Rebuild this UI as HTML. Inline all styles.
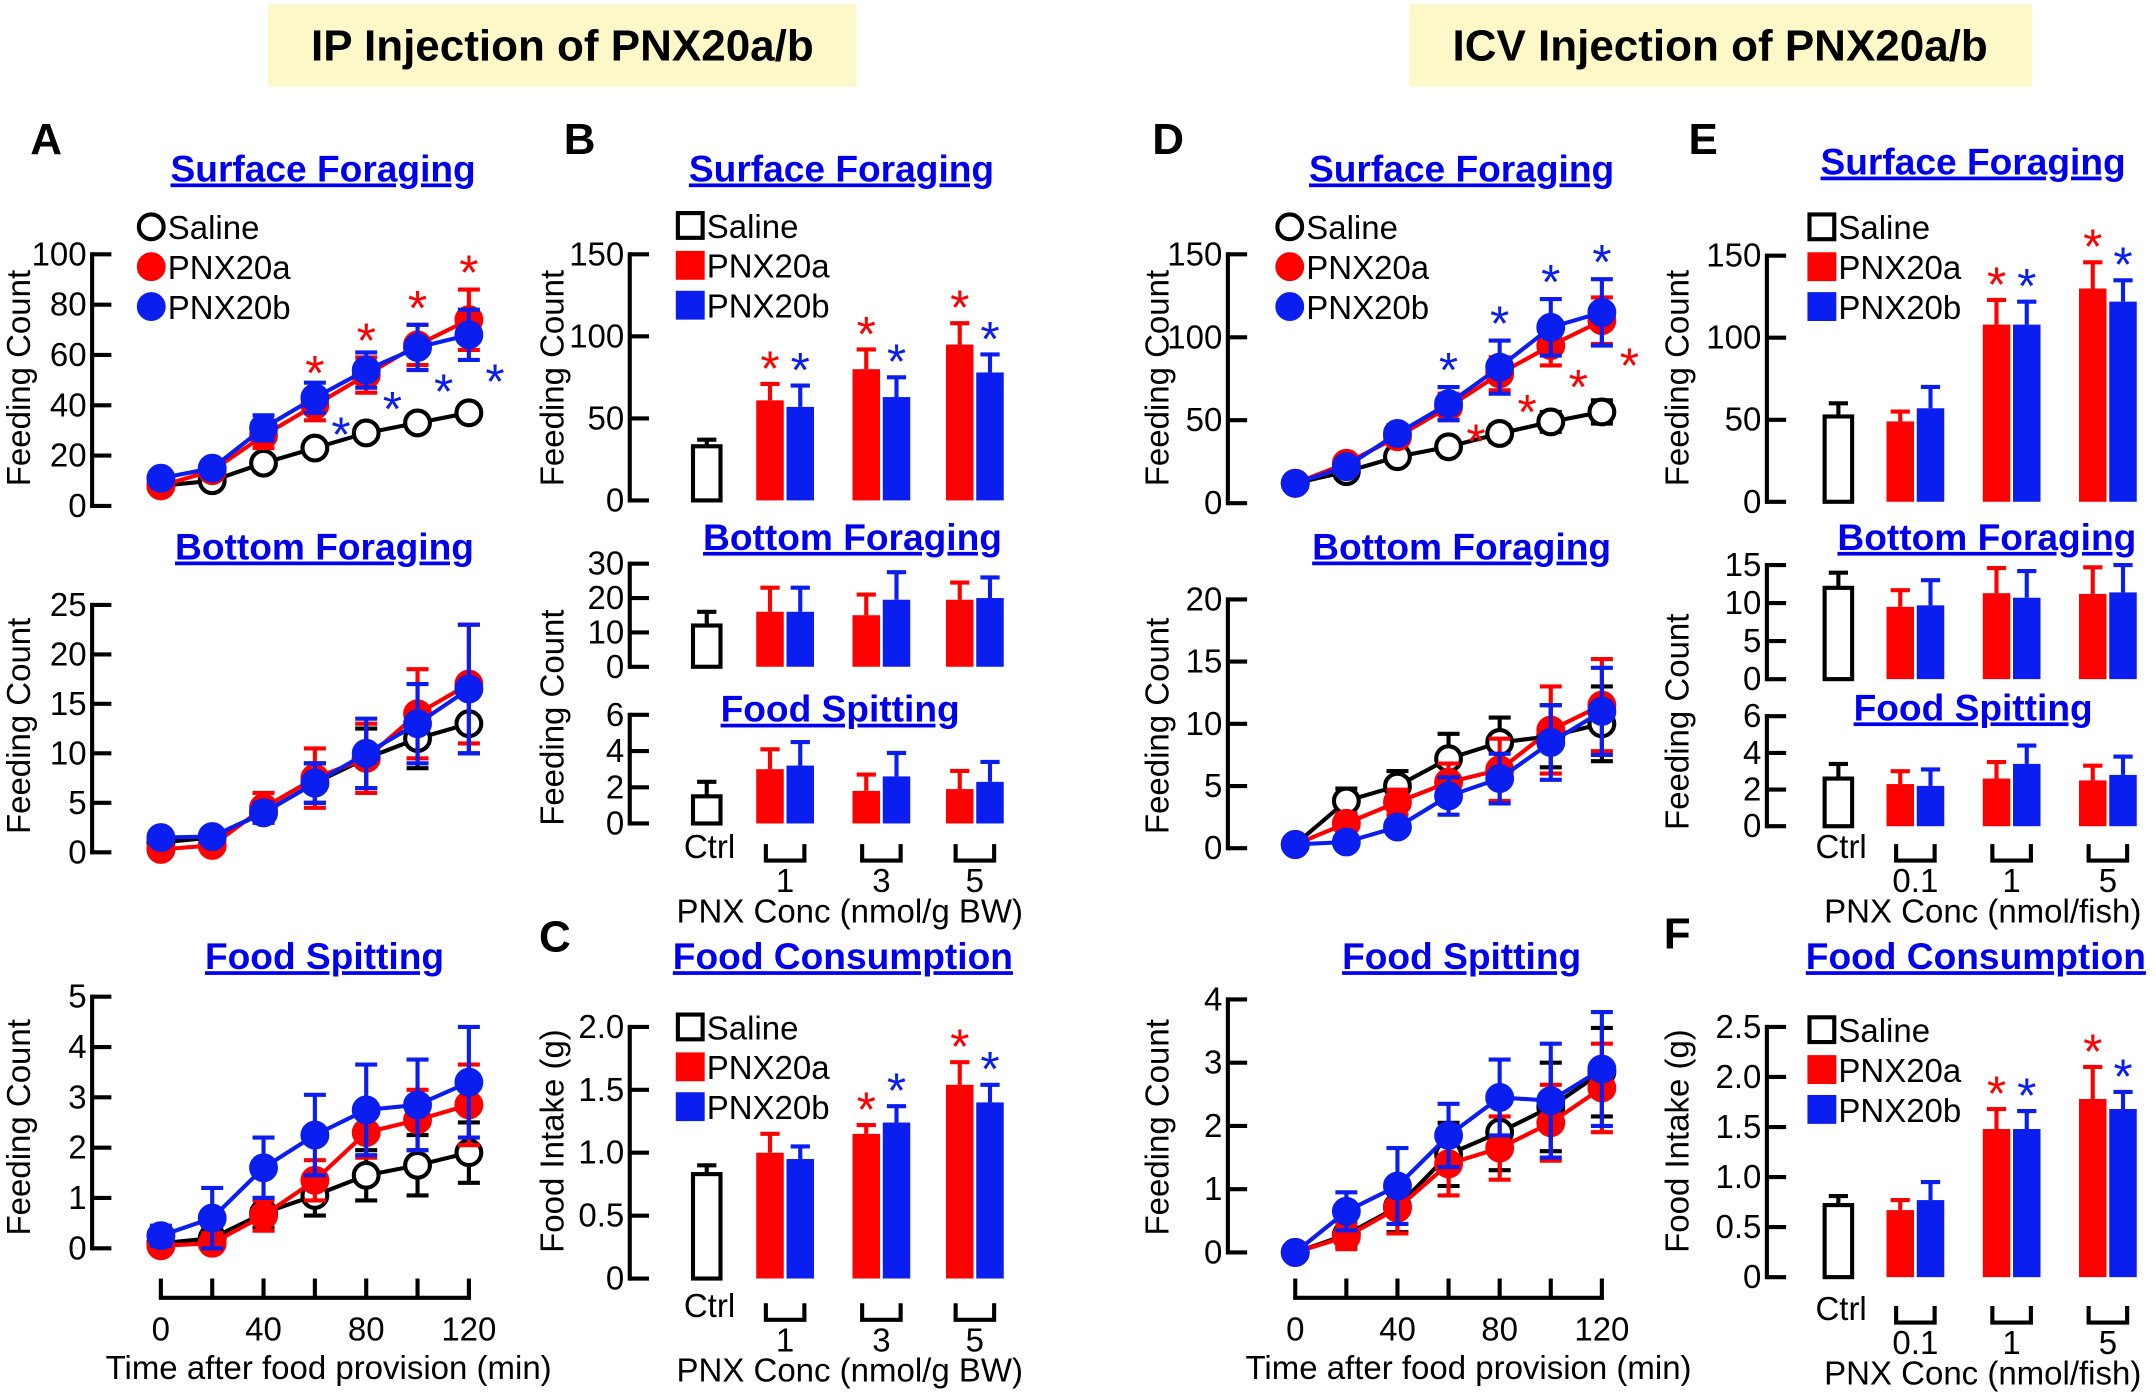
<!DOCTYPE html>
<html><head><meta charset="utf-8"><style>
html,body{margin:0;padding:0;background:#fff}
svg{display:block}
text{font-family:"Liberation Sans",Arial,sans-serif}
</style></head><body>
<svg id="fig" xmlns="http://www.w3.org/2000/svg" width="2156" height="1394" viewBox="0 0 1568 1014" preserveAspectRatio="none">
<rect x="195" y="3" width="428" height="60" fill="#fdf8c8"/>
<text x="409" y="44" font-size="32" font-weight="bold" text-anchor="middle">IP Injection of PNX20a/b</text>
<rect x="1025" y="3" width="453" height="60" fill="#fdf8c8"/>
<text x="1251" y="44" font-size="32" font-weight="bold" text-anchor="middle">ICV Injection of PNX20a/b</text>
</svg>
<script>
// ---- data ----
const timePoints=[0,20,40,60,80,100,120];
const aSurfSal=[8,10,17,23,29,33,37], aSurfSalE=[2,2,2,2,2,2,3];
const aSurfA=[8,14,28,40,52,64,74], aSurfAE=[2,3,5,6,7,8,12];
const aSurfB=[11,15,31,43,54,63,68], aSurfBE=[2,3,5,6,7,9,10];
const aBotSal=[1,1.5,4,7,9.5,11.5,13], aBotSalE=[0.5,0.5,1,2,3,3,3];
const aBotA=[0.3,0.7,4.5,7.5,9.5,14,17], aBotAE=[0.5,0.5,1.5,3,3.5,4.5,6];
const aBotB=[1.5,1.6,4,7,10,13,16.5], aBotBE=[0.5,0.5,1,2,3.5,4,6.5];
const aSpSal=[0.1,0.2,0.7,1.05,1.45,1.65,1.9], aSpSalE=[0.1,0.2,0.3,0.4,0.5,0.6,0.6];
const aSpA=[0.05,0.1,0.65,1.35,2.3,2.55,2.85], aSpAE=[0.1,0.2,0.3,0.4,0.5,0.6,0.8];
const aSpB=[0.25,0.6,1.6,2.25,2.75,2.85,3.3], aSpBE=[0.2,0.6,0.6,0.8,0.9,0.9,1.1];
const dSurfSal=[12,19,28,34,42,49,55], dSurfSalE=[2,2,3,4,5,6,7];
const dSurfA=[12,24,40,58,78,95,110], dSurfAE=[2,3,5,8,10,12,14];
const dSurfB=[12,22,42,60,82,106,115], dSurfBE=[2,3,5,10,16,17,20];
const dBotSal=[0.3,3.8,5,7.2,8.5,9,10], dBotSalE=[0.3,1,1.2,2,2,2.5,3];
const dBotA=[0.3,2,3.7,5.3,6.3,9.5,11.5], dBotAE=[0.3,0.8,1,1.5,2.5,3.5,3.7];
const dBotB=[0.3,0.5,1.7,4.2,5.6,8.5,11], dBotBE=[0.3,0.3,0.5,1.5,2,3,3.5];
const dSpSal=[0,0.28,0.72,1.55,1.9,2.3,2.85], dSpSalE=[0.05,0.2,0.4,0.5,0.6,0.7,0.7];
const dSpA=[0,0.25,0.7,1.4,1.65,2.05,2.6], dSpAE=[0.05,0.2,0.4,0.5,0.5,0.6,0.7];
const dSpB=[0,0.65,1.05,1.85,2.45,2.4,2.9], dSpBE=[0.05,0.3,0.6,0.5,0.6,0.9,0.9];
const starIdx=[3,4,5,6];
const ipDoses=["1","3","5"], icvDoses=["0.1","1","5"];
const bSurfCtrl=[33,4], bSurfA=[61,80,95], bSurfAE=[10,12,13], bSurfB=[57,63,78], bSurfBE=[13,12,11];
const bBotCtrl=[12,4], bBotA=[16,15,19.5], bBotAE=[7,6,5], bBotB=[16,19.5,20], bBotBE=[7,8,6];
const bSpCtrl=[1.5,0.8], bSpA=[3,1.8,1.9], bSpAE=[1.1,0.9,1], bSpB=[3.2,2.6,2.3], bSpBE=[1.3,1.3,1.1];
const cCtrl=[0.83,0.07], cA=[1.0,1.15,1.54], cAE=[0.15,0.07,0.18], cB=[0.95,1.24,1.4], cBE=[0.1,0.13,0.14];
const eSurfCtrl=[52,8], eSurfA=[49,108,130], eSurfAE=[6,15,16], eSurfB=[57,108,122], eSurfBE=[13,14,13];
const eBotCtrl=[12,2], eBotA=[9.5,11.3,11.2], eBotAE=[2.2,3.3,3.5], eBotB=[9.7,10.7,11.4], eBotBE=[3.3,3.5,3.6];
const eSpCtrl=[2.6,0.8], eSpA=[2.3,2.6,2.5], eSpAE=[0.7,0.9,0.8], eSpB=[2.2,3.4,2.8], eSpBE=[0.9,1.0,1.0];
const fCtrl=[0.72,0.09], fA=[0.67,1.48,1.78], fAE=[0.1,0.2,0.32], fB=[0.77,1.48,1.68], fBE=[0.18,0.18,0.17];
const cTicks=[0,0.5,1,1.5,2], cTickLabels=["0","0.5","1.0","1.5","2.0"];
const fTicks=[0,0.5,1,1.5,2,2.5], fTickLabels=["0","0.5","1.0","1.5","2.0","2.5"];

const RED='#ff0000', BLUE='#0a1ef0';
const FS=24;
const svg=document.getElementById('fig');
const NS='http://www.w3.org/2000/svg';
function mk(tag,attrs,name,txt){
  const el=document.createElementNS(NS,tag);
  for(const k in attrs) el.setAttribute(k,attrs[k]);
  
  
  if(txt!==undefined) el.textContent=txt;
  svg.appendChild(el);return el;
}
function line(x1,y1,x2,y2,c,w,name){return mk('line',{x1,y1,x2,y2,stroke:c,'stroke-width':w},name);}
function txt(x,y,s,size,opt,name){opt=opt||{};return mk('text',Object.assign({x,y,'font-size':size},opt),name,s);}
function title(x,y,s,name){txt(x,y,s,27,{'font-weight':'bold',fill:'#0000ee','text-anchor':'middle','text-decoration':'underline'},name);}
function ytitle(x,y,s,name){txt(x,y,s,FS,{'text-anchor':'middle',transform:`rotate(-90 ${x} ${y})`},name);}
function star(x,y,c){txt(x,y+4,'*',36,{fill:c,'text-anchor':'middle'},'significance-star');}
function yaxis(ax,yb,yt,max,ticks,name,labels){
  const ys=v=>yb-(v/max)*(yb-yt);
  line(ax,ys(ticks[ticks.length-1])-1.5,ax,yb+1.5,'#000',3,name+'-y-axis');
  ticks.forEach((t,i)=>{line(ax,ys(t),ax+14,ys(t),'#000',3,name+'-y-tick');
    txt(ax-4,ys(t)+8,labels?labels[i]:String(t),FS,{'text-anchor':'end'},name+'-y-tick-label');});
  return ys;
}
function linePanel(p){
  const ys=yaxis(p.ax,p.yb,p.yt,p.max,p.ticks,p.name);
  const xs=t=>p.x0+(t/120)*(p.x1-p.x0);
  const ser=[[p.sal,p.salE,'#000','saline'],[p.a,p.aE,RED,'pnx20a'],[p.b,p.bE,BLUE,'pnx20b']];
  ser.forEach(([v,e,c,n])=>{
    v.forEach((m,i)=>{const x=xs(timePoints[i]);
      line(x,ys(m+e[i]),x,ys(Math.max(0,m-e[i])),c,3,n+'-error-bar');
      line(x-8,ys(m+e[i]),x+8,ys(m+e[i]),c,3,n+'-error-cap');
      line(x-8,ys(Math.max(0,m-e[i])),x+8,ys(Math.max(0,m-e[i])),c,3,n+'-error-cap');});
    mk('polyline',{points:v.map((m,i)=>xs(timePoints[i])+','+ys(m)).join(' '),fill:'none',stroke:c,'stroke-width':3},n+'-line');
    v.forEach((m,i)=>mk('circle',{cx:xs(timePoints[i]),cy:ys(m),r:9,fill:n==='saline'?'#fff':c,stroke:c,'stroke-width':3},n+'-point'));
  });
  if(p.stars==='A'){starIdx.forEach(i=>{const x=xs(timePoints[i]);
    star(x,ys(p.a[i]+p.aE[i])-4,RED);star(x+19,ys(p.b[i]-p.bE[i])+24,BLUE);});}
  if(p.stars==='D'){starIdx.forEach(i=>{const x=xs(timePoints[i]);
    star(x,ys(p.b[i]+p.bE[i])-4,BLUE);star(x+20,ys(p.a[i]-p.aE[i])+24,RED);});}
  return xs;
}
function barPanel(p){
  const ys=yaxis(p.ax,p.yb,p.yt,p.max,p.ticks,p.name,p.labels);
  const W=20;
  function bar(cx,v,e,fill,stroke,n){
    mk('rect',{x:cx-W/2,y:ys(v),width:W,height:p.yb-ys(v),fill,stroke,'stroke-width':fill==='#fff'?3:0},n);
    line(cx,ys(v),cx,ys(v+e),stroke,3,n+'-error-bar');
    line(cx-7,ys(v+e),cx+7,ys(v+e),stroke,3,n+'-error-cap');
  }
  bar(p.cx,p.ctrl[0],p.ctrl[1],'#fff','#000','ctrl-bar');
  p.a.forEach((v,i)=>{bar(p.gx[i]-11,v,p.aE[i],RED,RED,'pnx20a-bar');bar(p.gx[i]+11,p.b[i],p.bE[i],BLUE,BLUE,'pnx20b-bar');
    if(p.stars&&p.stars.includes(i)){star(p.gx[i]-11,ys(v+p.aE[i])-3,RED);star(p.gx[i]+11,ys(p.b[i]+p.bE[i])-3,BLUE);}});
  if(p.xlab){
    txt(p.cx+2,p.xlab,'Ctrl',FS,{'text-anchor':'middle'},'ctrl-label');
    p.gx.forEach((g,i)=>{
      mk('polyline',{points:`${g-14},${p.xlab-10} ${g-14},${p.xlab+2} ${g+14},${p.xlab+2} ${g+14},${p.xlab-10}`,fill:'none',stroke:'#000','stroke-width':3},'dose-bracket');
      txt(g,p.xlab+25,p.doses[i],FS,{'text-anchor':'middle'},'dose-label');});
    txt(p.xtc,p.xlab+47,p.xtitle,FS,{'text-anchor':'middle'},'x-axis-title');
  }
}
function legend(x,y,kind){
  const items=[['Saline','#000','#fff'],['PNX20a',RED,RED],['PNX20b',BLUE,BLUE]];
  items.forEach(([s,c,f],i)=>{const yy=y+i*29;
    if(kind==='c') mk('circle',{cx:x+9,cy:yy,r:9,fill:f,stroke:c,'stroke-width':3},'legend-marker');
    else mk('rect',{x:x,y:yy-9,width:18,height:18,fill:f,stroke:c,'stroke-width':3},'legend-marker');
    txt(x+21,yy+9,s,FS,{},'legend-entry');});
}
[['A',22,112],['B',410,112],['C',392,692],['D',838,112],['E',1228,112],['F',1210,690]].forEach(([s,x,y])=>txt(x,y,s,32,{'font-weight':'bold'},'panel-label-'+s.toLowerCase()));
// Panel A
title(235,132,'Surface Foraging','a-surface-title');ytitle(22,275,'Feeding Count','a-surface-y-title');
linePanel({name:'a-surface',ax:67,yb:368,yt:185,max:100,ticks:[0,20,40,60,80,100],x0:117,x1:341,sal:aSurfSal,salE:aSurfSalE,a:aSurfA,aE:aSurfAE,b:aSurfB,bE:aSurfBE,stars:'A'});
legend(101,165,'c');
title(236,407,'Bottom Foraging','a-bottom-title');ytitle(22,528,'Feeding Count','a-bottom-y-title');
linePanel({name:'a-bottom',ax:67,yb:620,yt:440,max:25,ticks:[0,5,10,15,20,25],x0:117,x1:341,sal:aBotSal,salE:aBotSalE,a:aBotA,aE:aBotAE,b:aBotB,bE:aBotBE});
title(236,705,'Food Spitting','a-spitting-title');ytitle(22,820,'Feeding Count','a-spitting-y-title');
let xsA=linePanel({name:'a-spitting',ax:67,yb:908,yt:725,max:5,ticks:[0,1,2,3,4,5],x0:117,x1:341,sal:aSpSal,salE:aSpSalE,a:aSpA,aE:aSpAE,b:aSpB,bE:aSpBE});
function xaxis(xs,y,cx,name){line(xs(0)-1.5,y,xs(120)+1.5,y,'#000',3,name+'-x-axis');
  timePoints.forEach(t=>{line(xs(t),y,xs(t),y-14,'#000',3,name+'-x-tick');});
  [0,40,80,120].forEach(t=>txt(xs(t),y+31,String(t),FS,{'text-anchor':'middle'},name+'-x-tick-label'));
  txt(cx,y+59,'Time after food provision (min)',FS,{'text-anchor':'middle'},name+'-x-title');}
xaxis(xsA,944,239,'a');
// Panel B
title(612,132,'Surface Foraging','b-surface-title');ytitle(410,275,'Feeding Count','b-surface-y-title');
barPanel({name:'b-surface',ax:458,yb:364,yt:185,max:150,ticks:[0,50,100,150],cx:514,gx:[571,641,709],ctrl:bSurfCtrl,a:bSurfA,aE:bSurfAE,b:bSurfB,bE:bSurfBE,stars:[0,1,2]});
legend(493,164,'s');
title(620,400,'Bottom Foraging','b-bottom-title');ytitle(410,522,'Feeding Count','b-lower-y-title');
barPanel({name:'b-bottom',ax:458,yb:485,yt:410,max:30,ticks:[0,10,20,30],cx:514,gx:[571,641,709],ctrl:bBotCtrl,a:bBotA,aE:bBotAE,b:bBotB,bE:bBotBE});
title(611,525,'Food Spitting','b-spitting-title');
barPanel({name:'b-spitting',ax:458,yb:599,yt:520,max:6,ticks:[0,2,4,6],cx:514,gx:[571,641,709],ctrl:bSpCtrl,a:bSpA,aE:bSpAE,b:bSpB,bE:bSpBE,xlab:624,doses:ipDoses,xtc:618,xtitle:'PNX Conc (nmol/g BW)'});
// Panel C
title(613,705,'Food Consumption','c-title');ytitle(410,830,'Food Intake (g)','c-y-title');
barPanel({name:'c',ax:458,yb:930,yt:747,max:2,ticks:cTicks,labels:cTickLabels,cx:514,gx:[571,641,709],ctrl:cCtrl,a:cA,aE:cAE,b:cB,bE:cBE,stars:[1,2],xlab:958,doses:ipDoses,xtc:618,xtitle:'PNX Conc (nmol/g BW)'});
legend(493,747,'s');
// Panel D
title(1063,132,'Surface Foraging','d-surface-title');ytitle(850,275,'Feeding Count','d-surface-y-title');
linePanel({name:'d-surface',ax:893,yb:366,yt:185,max:150,ticks:[0,50,100,150],x0:942,x1:1165,sal:dSurfSal,salE:dSurfSalE,a:dSurfA,aE:dSurfAE,b:dSurfB,bE:dSurfBE,stars:'D'});
legend(929,165,'c');
title(1063,407,'Bottom Foraging','d-bottom-title');ytitle(850,528,'Feeding Count','d-bottom-y-title');
linePanel({name:'d-bottom',ax:893,yb:617,yt:436,max:20,ticks:[0,5,10,15,20],x0:942,x1:1165,sal:dBotSal,salE:dBotSalE,a:dBotA,aE:dBotAE,b:dBotB,bE:dBotBE});
title(1063,705,'Food Spitting','d-spitting-title');ytitle(850,820,'Feeding Count','d-spitting-y-title');
let xsD=linePanel({name:'d-spitting',ax:893,yb:911,yt:727,max:4,ticks:[0,1,2,3,4],x0:942,x1:1165,sal:dSpSal,salE:dSpSalE,a:dSpA,aE:dSpAE,b:dSpB,bE:dSpBE});
xaxis(xsD,944,1068,'d');
// Panel E
title(1435,127,'Surface Foraging','e-surface-title');ytitle(1228,275,'Feeding Count','e-surface-y-title');
barPanel({name:'e-surface',ax:1285,yb:365,yt:186,max:150,ticks:[0,50,100,150],cx:1337,gx:[1393,1463,1533],ctrl:eSurfCtrl,a:eSurfA,aE:eSurfAE,b:eSurfB,bE:eSurfBE,stars:[1,2]});
legend(1316,165,'s');
title(1445,400,'Bottom Foraging','e-bottom-title');ytitle(1228,525,'Feeding Count','e-lower-y-title');
barPanel({name:'e-bottom',ax:1285,yb:494,yt:411,max:15,ticks:[0,5,10,15],cx:1337,gx:[1393,1463,1533],ctrl:eBotCtrl,a:eBotA,aE:eBotAE,b:eBotB,bE:eBotBE});
title(1435,524,'Food Spitting','e-spitting-title');
barPanel({name:'e-spitting',ax:1285,yb:601,yt:521,max:6,ticks:[0,2,4,6],cx:1337,gx:[1393,1463,1533],ctrl:eSpCtrl,a:eSpA,aE:eSpAE,b:eSpB,bE:eSpBE,xlab:624,doses:icvDoses,xtc:1442,xtitle:'PNX Conc (nmol/fish)'});
// Panel F
title(1437,705,'Food Consumption','f-title');ytitle(1228,830,'Food Intake (g)','f-y-title');
barPanel({name:'f',ax:1285,yb:929,yt:747,max:2.5,ticks:fTicks,labels:fTickLabels,cx:1337,gx:[1393,1463,1533],ctrl:fCtrl,a:fA,aE:fAE,b:fB,bE:fBE,stars:[1,2],xlab:960,doses:icvDoses,xtc:1442,xtitle:'PNX Conc (nmol/fish)'});
legend(1316,749,'s');
</script>
</body></html>
